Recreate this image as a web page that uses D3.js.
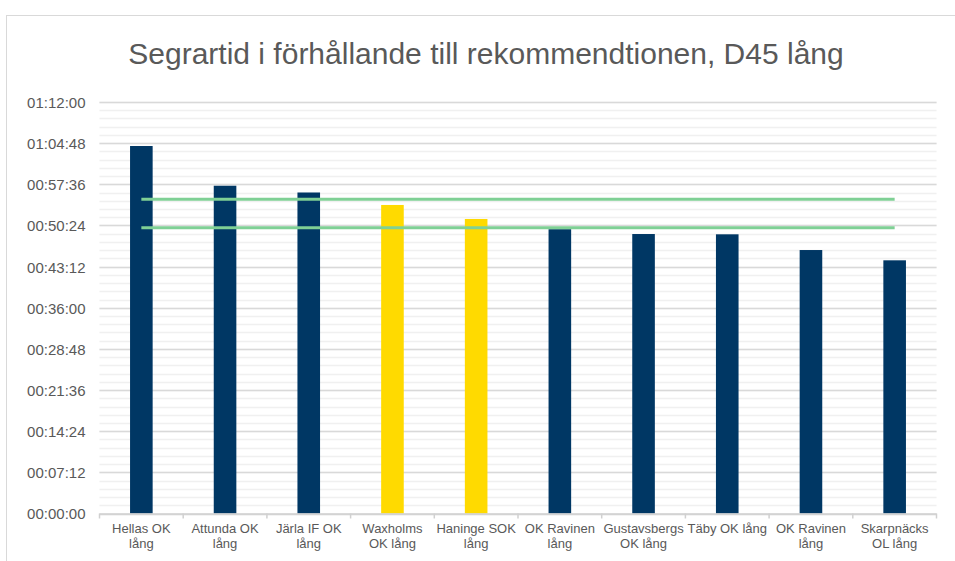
<!DOCTYPE html>
<html lang="sv">
  <head>
    <meta charset="utf-8" />
    <title>Segrartid D45 lång</title>
    <style>
      body { margin: 0; background: #fff; }
      svg { display: block; font-family: "Liberation Sans", Arial, sans-serif; }
    </style>
  </head>
  <body>
    <div id="chart"></div>

    <script src="https://cdn.jsdelivr.net/npm/d3@7"></script>
    <script>
      // data
      const clubs = ["Hellas OK lång", "Attunda OK lång", "Järla IF OK lång", "Waxholms OK lång",
                     "Haninge SOK lång", "OK Ravinen lång", "Gustavsbergs OK lång", "Täby OK lång",
                     "OK Ravinen lång", "Skarpnäcks OL lång"];
      const winnerTimes = ["1:04:18", "0:57:21", "0:56:10", "0:53:59", "0:51:32",
                           "0:49:45", "0:48:54", "0:48:51", "0:46:06", "0:44:18"];
      const highlighted = [false, false, false, true, true, false, false, false, false, false];
      const recLow  = ["0:50:00", "0:50:00", "0:50:00", "0:50:00", "0:50:00",
                       "0:50:00", "0:50:00", "0:50:00", "0:50:00", "0:50:00"];
      const recHigh = ["0:55:00", "0:55:00", "0:55:00", "0:55:00", "0:55:00",
                       "0:55:00", "0:55:00", "0:55:00", "0:55:00", "0:55:00"];
      const yTickLabels = ["00:00:00", "00:07:12", "00:14:24", "00:21:36", "00:28:48", "00:36:00",
                           "00:43:12", "00:50:24", "00:57:36", "01:04:48", "01:12:00"];
      const chartTitle = "Segrartid i förhållande till rekommendtionen, D45 lång";

      const toSec = (s) => s.split(":").reduce((a, v) => a * 60 + +v, 0);

      const width = 955, height = 561;
      const plotLeft = 99.5, plotRight = 936.5, plotTop = 102, plotBottom = 513.5;

      const svg = d3.select("#chart").append("svg")
        .attr("width", width).attr("height", height);

      svg.append("rect").attr("width", width).attr("height", height).attr("fill", "#fff");
      // chart frame
      svg.append("rect")
        .attr("x", 6.5).attr("y", 15.5).attr("width", 1000).attr("height", 600)
        .attr("fill", "none").attr("stroke", "#d9d9d9");

      const yMax = toSec(yTickLabels[yTickLabels.length - 1]);
      const y = d3.scaleLinear().domain([0, yMax]).range([plotBottom, plotTop]);
      const x = d3.scaleBand().domain(d3.range(clubs.length)).range([plotLeft, plotRight]);
      const majorStep = toSec(yTickLabels[1]);

      // minor grid
      svg.append("g").selectAll("line")
        .data(d3.range(0, yMax + 1, majorStep / 5))
        .join("line")
        .attr("x1", plotLeft).attr("x2", plotRight)
        .attr("y1", d => Math.round(y(d)) + 0.5).attr("y2", d => Math.round(y(d)) + 0.5)
        .attr("stroke", "#f0f0f0").attr("stroke-width", 1.5);

      // major grid
      svg.append("g").selectAll("line")
        .data(yTickLabels.map(toSec))
        .join("line")
        .attr("x1", plotLeft).attr("x2", plotRight)
        .attr("y1", d => Math.round(y(d)) + 0.5).attr("y2", d => Math.round(y(d)) + 0.5)
        .attr("stroke", "#d9d9d9").attr("stroke-width", 1.5);

      // y axis labels
      const yAxis = svg.append("g")
        .attr("transform", `translate(${plotLeft - 14},0)`)
        .call(d3.axisLeft(y).tickValues(yTickLabels.map(toSec)).tickSize(0)
          .tickFormat((d, i) => yTickLabels[i]));
      yAxis.select(".domain").remove();
      yAxis.selectAll("text")
        .attr("x", 0).attr("dy", "0.36em")
        .attr("fill", "#595959")
        .style("font-size", "15px")
        .style("font-family", "Liberation Sans, Arial, sans-serif");

      // bars
      const barW = x.bandwidth() * 0.27;
      svg.append("g").selectAll("rect")
        .data(winnerTimes)
        .join("rect")
        .attr("x", (d, i) => x(i) + (x.bandwidth() - barW) / 2)
        .attr("width", barW)
        .attr("y", d => y(toSec(d)))
        .attr("height", d => plotBottom - y(toSec(d)))
        .attr("fill", (d, i) => highlighted[i] ? "#ffda00" : "#003764");

      // x axis line + ticks
      const xAxis = svg.append("g");
      xAxis.append("line")
        .attr("x1", plotLeft).attr("x2", plotRight)
        .attr("y1", plotBottom + 0.5).attr("y2", plotBottom + 0.5)
        .attr("stroke", "#d0d0d0").attr("stroke-width", 1.5);
      xAxis.selectAll("line.tick")
        .data(d3.range(clubs.length + 1))
        .join("line")
        .attr("class", "tick")
        .attr("x1", i => x.step() * i + plotLeft).attr("x2", i => x.step() * i + plotLeft)
        .attr("y1", plotBottom).attr("y2", plotBottom + 5)
        .attr("stroke", "#d0d0d0").attr("stroke-width", 1.5);

      // category labels wrapped to fit one band
      const labels = svg.append("g")
        .attr("fill", "#595959")
        .style("font-size", "13px")
        .attr("text-anchor", "middle");
      clubs.forEach((name, i) => {
        const cx = x(i) + x.bandwidth() / 2;
        const t = labels.append("text").attr("x", cx).attr("y", plotBottom + 19);
        const words = name.split(" ");
        let line = [];
        let ts = t.append("tspan").attr("x", cx).attr("dy", 0);
        words.forEach(w => {
          line.push(w);
          ts.text(line.join(" "));
          if (ts.node().getComputedTextLength() > x.step() - 2 && line.length > 1) {
            line.pop();
            ts.text(line.join(" "));
            line = [w];
            ts = t.append("tspan").attr("x", cx).attr("dy", 15).text(w);
          }
        });
      });

      // recommended range lines
      const recLine = d3.line()
        .x((d, i) => x(i) + x.bandwidth() / 2)
        .y(d => y(toSec(d)));
      [recHigh, recLow].forEach(series => {
        svg.append("path")
          .datum(series)
          .attr("d", recLine)
          .attr("fill", "none")
          .attr("stroke", "#7fd095")
          .attr("stroke-width", 3);
      });

      // title
      svg.append("text")
        .attr("x", 486).attr("y", 64)
        .attr("text-anchor", "middle")
        .attr("fill", "#595959")
        .style("font-size", "30px")
        .text(chartTitle);
    </script>
  </body>
</html>
